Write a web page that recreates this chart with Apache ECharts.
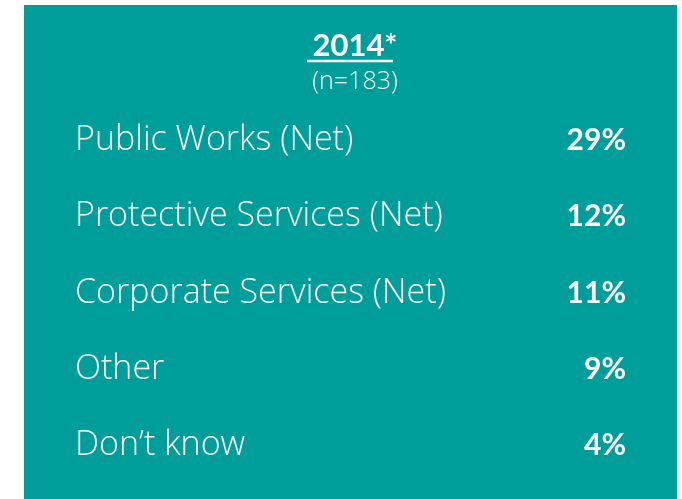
<!DOCTYPE html>
<html>
<head>
<meta charset="utf-8">
<script src="https://cdn.jsdelivr.net/npm/echarts@6/dist/echarts.min.js"></script>
<style>html,body{margin:0;padding:0;background:#fff;}#c{width:682px;height:499px;}</style>
</head>
<body>
<div id="c"></div>
<script>
var categories = ['Public Works (Net)', 'Protective Services (Net)', 'Corporate Services (Net)', 'Other', 'Don\u2019t know'];
var values = [29, 12, 11, 9, 4];
var titleText = '2014*';
var subtitleText = '(n=183)';

var chart = echarts.init(document.getElementById('c'), null, {renderer: 'canvas'});
var teal = '#009E9B';
var option = {
  backgroundColor: '#ffffff',
  animation: false,
  graphic: [
    {type: 'rect', z: -10, shape: {x: 24, y: 5, width: 653, height: 494}, style: {fill: teal}},
    {type: 'line', z: 10, shape: {x1: 307, y1: 61, x2: 393, y2: 61}, style: {stroke: '#ffffff', lineWidth: 2.5}}
  ],
  title: [{
    text: titleText,
    left: 350,
    textAlign: 'center',
    top: 25,
    textStyle: {color: '#ffffff', fontFamily: 'Lato', fontWeight: 'bold', fontSize: 31}
  }, {
    text: subtitleText,
    left: 350,
    textAlign: 'center',
    top: 64,
    textStyle: {color: '#ffffff', fontFamily: 'Open Sans', fontWeight: 300, fontSize: 25}
  }],
  grid: {left: 75, right: 56, top: 102, height: 382},
  xAxis: {type: 'value', min: 0, max: 100, show: false},
  yAxis: [
    {
      type: 'category', data: categories, inverse: true, position: 'left',
      axisLine: {show: false}, axisTick: {show: false}, splitLine: {show: false},
      axisLabel: {inside: true, margin: 0, color: '#ffffff', fontFamily: 'Open Sans', fontWeight: 300, fontSize: 34}
    },
    {
      type: 'category', data: values.map(function (v) { return v + '%'; }), inverse: true, position: 'right',
      axisLine: {show: false}, axisTick: {show: false}, splitLine: {show: false},
      axisLabel: {inside: true, margin: 0, color: '#ffffff', fontFamily: 'Lato', fontWeight: 'bold', fontSize: 30}
    }
  ],
  series: [{
    type: 'bar', yAxisIndex: 0, data: values, silent: true,
    itemStyle: {color: 'rgba(0,0,0,0)'}
  }]
};
chart.setOption(option);
</script>
</body>
</html>
